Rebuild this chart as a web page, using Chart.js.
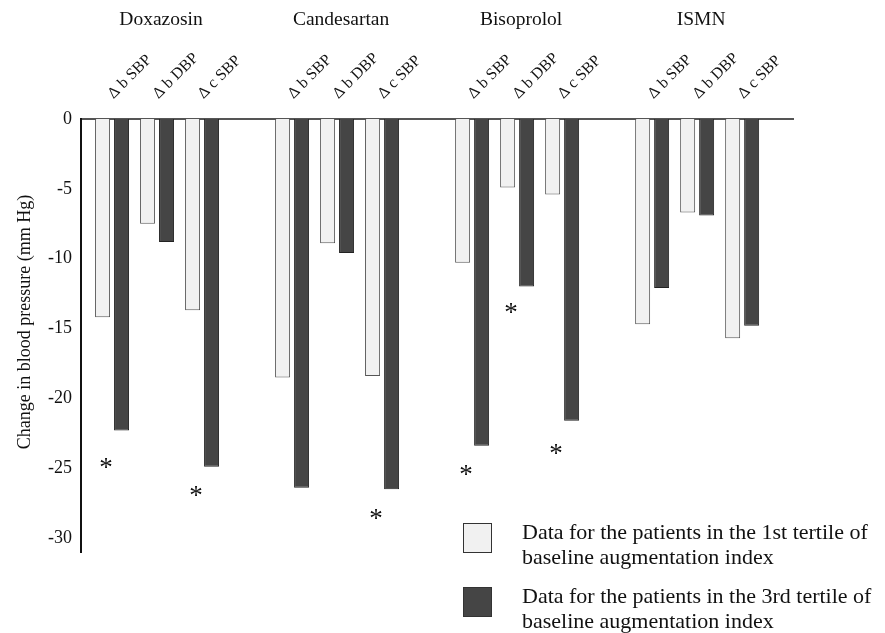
<!DOCTYPE html>
<html>
<head>
<meta charset="utf-8">
<script src="https://cdn.jsdelivr.net/npm/chart.js@4.4.1/dist/chart.umd.min.js"></script>
<style>
  body { margin: 0; background: #fff; }
  #wrap { position: relative; width: 885px; height: 633px; }
  #legend { position: absolute; left: 463px; top: 519px; font-family: "Liberation Serif", serif; font-size: 22px; color: #111; }
  .item { position: relative; height: 64px; }
  .box { position: absolute; left: 0; top: 4px; width: 27px; height: 28px; border: 1.5px solid #333; }
  .txt { position: absolute; left: 59px; top: 0; line-height: 25px; white-space: nowrap; }
</style>
</head>
<body>
<div id="wrap">
  <canvas id="mycanvas"></canvas>
  <div id="legend"></div>
</div>
<script>
var drugs = ["Doxazosin", "Candesartan", "Bisoprolol", "ISMN"];
var measures = ["\u0394 b SBP", "\u0394 b DBP", "\u0394 c SBP"];

// 1st tertile / 3rd tertile, in order drug x measure
var tertile1 = [-14.2, -7.5, -13.7,  -18.5, -8.9, -18.4,  -10.3, -4.9, -5.4,  -14.7, -6.7, -15.7];
var tertile3 = [-22.3, -8.8, -24.9,  -26.4, -9.6, -26.5,  -23.4, -12.0, -21.6,  -12.1, -6.9, -14.8];

var yTicks = [0, -5, -10, -15, -20, -25, -30];

// significance markers: pair index and level
var stars = [
  { pair: 0, y: -24.6 },
  { pair: 2, y: -26.6 },
  { pair: 5, y: -28.3 },
  { pair: 6, y: -25.1 },
  { pair: 7, y: -13.5 },
  { pair: 8, y: -23.6 }
];

var labels1 = "Data for the patients in the 1st tertile of|baseline augmentation index";
var labels3 = "Data for the patients in the 3rd tertile of|baseline augmentation index";

// positions: one empty slot between drug groups
var pos = [];
var groupPos = [];
var pairLabels = [];
for (var g = 0; g < drugs.length; g++) {
  for (var m = 0; m < measures.length; m++) {
    pos.push(g * 4 + m);
    pairLabels.push(measures[m]);
  }
  groupPos.push(g * 4 + 1);
}

var serif = "'Liberation Serif', 'Times New Roman', serif";

var starPlugin = {
  id: "stars",
  afterDatasetsDraw: function(chart) {
    var ctx = chart.ctx;
    var xs = chart.scales.x, ys = chart.scales.y;
    ctx.save();
    ctx.fillStyle = "#111";
    ctx.font = "27px " + serif;
    ctx.textAlign = "center";
    ctx.textBaseline = "alphabetic";
    stars.forEach(function(s) {
      ctx.fillText("*", xs.getPixelForValue(pos[s.pair]) - 6, ys.getPixelForValue(s.y) + 13);
    });
    ctx.restore();
  }
};

var chartdata = {
  datasets: [
    {
      label: labels1,
      backgroundColor: "#f1f1f1",
      borderColor: "#555555",
      borderWidth: 1,
      data: tertile1.map(function(v, i) { return { x: pos[i], y: v }; })
    },
    {
      label: labels3,
      backgroundColor: "#454545",
      borderColor: "#222222",
      borderWidth: 1,
      data: tertile3.map(function(v, i) { return { x: pos[i], y: v }; })
    }
  ]
};

var ctx = document.getElementById("mycanvas");

var chart = new Chart(ctx, {
  type: "bar",
  data: chartdata,
  plugins: [starPlugin],
  options: {
    responsive: true,
    maintainAspectRatio: false,
    animation: false,
    categoryPercentage: 0.844,
    barPercentage: 0.79,
    layout: { padding: { left: 0, right: 92, top: 0, bottom: 81 } },
    plugins: { legend: { display: false }, tooltip: { enabled: false } },
    scales: {
      x: {
        type: "linear",
        position: "top",
        offset: false,
        weight: 0,
        min: -0.69,
        max: 15.13,
        grid: { display: false },
        border: { display: true, color: "#555", width: 2 },
        afterBuildTicks: function(scale) {
          scale.ticks = pos.map(function(p) { return { value: p }; });
        },
        afterFit: function(scale) { scale.height = 71; },
        ticks: {
          autoSkip: false,
          minRotation: 45,
          maxRotation: 45,
          padding: 8,
          labelOffset: 12,
          color: "#111",
          font: { family: serif, size: 16 },
          callback: function(value) { return pairLabels[pos.indexOf(value)]; }
        }
      },
      x2: {
        type: "linear",
        axis: "x",
        position: "top",
        offset: false,
        weight: 1,
        min: -0.69,
        max: 15.13,
        grid: { display: false },
        border: { display: false },
        afterBuildTicks: function(scale) {
          scale.ticks = groupPos.map(function(p) { return { value: p }; });
        },
        afterFit: function(scale) { scale.height = 48; },
        ticks: {
          autoSkip: false,
          maxRotation: 0,
          padding: 8,
          labelOffset: 4,
          color: "#111",
          font: { family: serif, size: 19.5 },
          callback: function(value) { return drugs[groupPos.indexOf(value)]; }
        }
      },
      y: {
        min: -31,
        max: 0,
        grid: { display: false, drawTicks: false },
        border: { display: true, color: "#111", width: 2 },
        afterFit: function(scale) { scale.width = 81; },
        afterBuildTicks: function(scale) {
          scale.ticks = yTicks.map(function(v) { return { value: v }; });
        },
        ticks: {
          padding: 9,
          color: "#111",
          font: { family: serif, size: 18 }
        },
        title: {
          display: true,
          text: "      Change in blood pressure (mm Hg)",
          color: "#111",
          padding: { top: 14, bottom: 0 },
          font: { family: serif, size: 18 }
        }
      }
    }
  }
});

// legend built from the datasets
var lg = document.getElementById("legend");
chart.data.datasets.forEach(function(ds) {
  var item = document.createElement("div");
  item.className = "item";
  var box = document.createElement("div");
  box.className = "box";
  box.style.background = ds.backgroundColor;
  var txt = document.createElement("div");
  txt.className = "txt";
  txt.innerHTML = ds.label.split("|").join("<br>");
  item.appendChild(box);
  item.appendChild(txt);
  lg.appendChild(item);
});
</script>
</body>
</html>
